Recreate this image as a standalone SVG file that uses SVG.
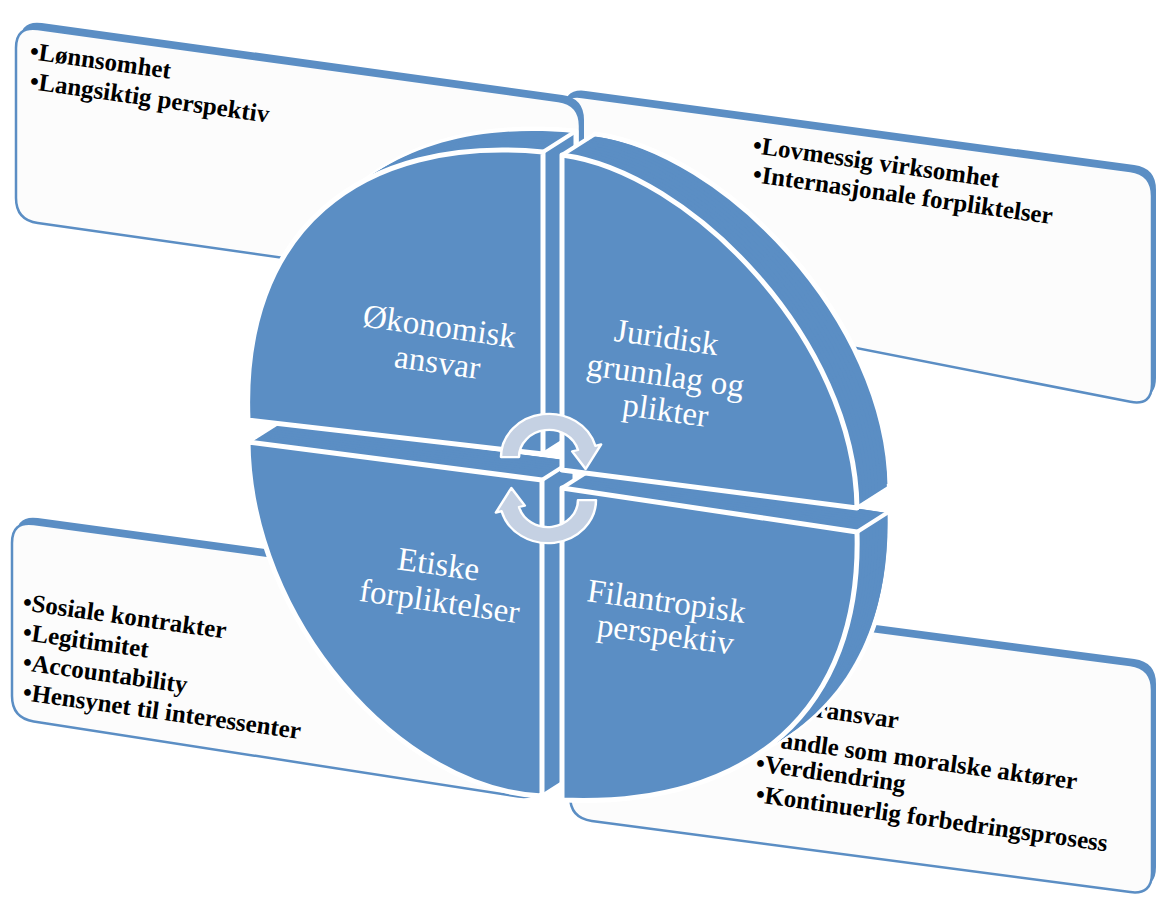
<svg xmlns="http://www.w3.org/2000/svg" xmlns:xlink="http://www.w3.org/1999/xlink" width="1158" height="898" viewBox="0 0 1158 898">
<defs>
<style>
.boxback{fill:#5B8EC4}
.boxface{fill:#FCFCFC;stroke:#5B8EC4;stroke-width:2.5}
.item{font-family:"Liberation Serif",serif;font-weight:bold;font-size:25px;fill:#000}
.lbl{font-family:"Liberation Serif",serif;font-size:33px;fill:#FFFFFF;text-anchor:middle}
.ext{fill:#5B8EC4}
.back{fill:#5B8EC4;stroke:#FFFFFF;stroke-width:5;stroke-linejoin:round}
.front{fill:#5B8EC4;stroke:#FFFFFF;stroke-width:5;stroke-linejoin:round}
.edge{stroke:#FFFFFF;stroke-width:4;stroke-linecap:round;fill:none}
.arrow{fill:#C5D1E3;stroke:#FFFFFF;stroke-width:2.5;stroke-linejoin:round}
</style>
<path id="pq1" d="M248,420 C240,230 360,135 543,152 L543,454 Z"/>
<path id="pq2" d="M562,155 C690,172 855,340 857,508 L562,470 Z"/>
<path id="pq3" d="M248,442 L542,480 L542,796 C400,790 250,620 248,442 Z"/>
<path id="pq4" d="M562,488 L857,532 C862,710 750,808 562,800 Z"/>
<path id="bTL" d="M16,48 Q16,26 37.8,29 L558.2,101 Q580,104 580,126 L580,278 Q580,300 558.2,296.9 L37.8,223.1 Q16,220 16,198 Z"/>
<path id="bTR" d="M560,116 Q560,94 581.8,96.9 L1130.2,171.1 Q1152,174 1152,196 L1152,384 Q1152,406 1130.4,401.8 L581.6,294.2 Q560,290 560,268 Z"/>
<path id="bBL" d="M12,543 Q12,521 33.8,524 L518.2,590 Q540,593 540,615 L540,778 Q540,800 518.3,796.6 L33.7,721.4 Q12,718 12,696 Z"/>
<path id="bBR" d="M570,613 Q570,591 591.8,593.9 L1130.2,665.1 Q1152,668 1152,690 L1152,873 Q1152,895 1130.2,892.1 L591.8,820.9 Q570,818 570,796 Z"/>
<path id="arr" d="M-48,0 A48,48 0 0 1 46.36,-12.42 L52.16,-13.98 L36.65,13.34 L23.18,-6.21 L28.98,-7.76 A30,30 0 0 0 -30,0 Z"/>
</defs>

<g id="box-juridisk">
<use href="#bTR" class="boxback" transform="translate(4,-6)"/>
<use href="#bTR" class="boxface"/>
<text class="item" transform="translate(752,153) rotate(8)">•Lovmessig virksomhet</text>
<text class="item" transform="translate(752,182) rotate(8)">•Internasjonale forpliktelser</text>
</g>

<g id="box-okonomisk">
<use href="#bTL" class="boxback" transform="translate(4,-6)"/>
<use href="#bTL" class="boxface"/>
<text class="item" transform="translate(29,59) rotate(8)">•Lønnsomhet</text>
<text class="item" transform="translate(29,89) rotate(8)">•Langsiktig perspektiv</text>
</g>

<g id="box-etiske">
<use href="#bBL" class="boxback" transform="translate(4,-6)"/>
<use href="#bBL" class="boxface"/>
<text class="item" transform="translate(22,610) rotate(8)">•Sosiale kontrakter</text>
<text class="item" transform="translate(22,640) rotate(8)">•Legitimitet</text>
<text class="item" transform="translate(22,670) rotate(8)">•Accountability</text>
<text class="item" transform="translate(22,700) rotate(8)">•Hensynet til interessenter</text>
</g>

<g id="box-filantropisk">
<use href="#bBR" class="boxback" transform="translate(4,-6)"/>
<use href="#bBR" class="boxface"/>
<text class="item" transform="translate(815,717) rotate(8)">ransvar</text>
<text class="item" transform="translate(780,748) rotate(8)">andle som moralske aktører</text>
<text class="item" transform="translate(755,771) rotate(8)">•Verdiendring</text>
<text class="item" transform="translate(755,802) rotate(8)">•Kontinuerlig forbedringsprosess</text>
</g>

<g id="q3-etiske">
<use href="#pq3" class="back" transform="translate(33,-21)"/>
<use href="#pq3" class="ext" transform="translate(30,-19.1)"/>
<use href="#pq3" class="ext" transform="translate(27,-17.2)"/>
<use href="#pq3" class="ext" transform="translate(24,-15.3)"/>
<use href="#pq3" class="ext" transform="translate(21,-13.4)"/>
<use href="#pq3" class="ext" transform="translate(18,-11.5)"/>
<use href="#pq3" class="ext" transform="translate(15,-9.5)"/>
<use href="#pq3" class="ext" transform="translate(12,-7.6)"/>
<use href="#pq3" class="ext" transform="translate(9,-5.7)"/>
<use href="#pq3" class="ext" transform="translate(6,-3.8)"/>
<use href="#pq3" class="ext" transform="translate(3,-1.9)"/>
<path class="edge" d="M248,442 L281,421 M542,480 L575,459 M542,796 L575,775"/>
<use href="#pq3" class="front"/>
<text class="lbl" transform="translate(437,575) rotate(8)">Etiske</text>
<text class="lbl" transform="translate(438,612) rotate(8)">forpliktelser</text>
</g>

<g id="q4-filantropisk">
<use href="#pq4" class="back" transform="translate(33,-21)"/>
<use href="#pq4" class="ext" transform="translate(30,-19.1)"/>
<use href="#pq4" class="ext" transform="translate(27,-17.2)"/>
<use href="#pq4" class="ext" transform="translate(24,-15.3)"/>
<use href="#pq4" class="ext" transform="translate(21,-13.4)"/>
<use href="#pq4" class="ext" transform="translate(18,-11.5)"/>
<use href="#pq4" class="ext" transform="translate(15,-9.5)"/>
<use href="#pq4" class="ext" transform="translate(12,-7.6)"/>
<use href="#pq4" class="ext" transform="translate(9,-5.7)"/>
<use href="#pq4" class="ext" transform="translate(6,-3.8)"/>
<use href="#pq4" class="ext" transform="translate(3,-1.9)"/>
<path class="edge" d="M562,488 L595,467 M857,532 L890,511 M562,800 L595,779"/>
<use href="#pq4" class="front"/>
<text class="lbl" transform="translate(665,612) rotate(8)">Filantropisk</text>
<text class="lbl" transform="translate(664,645) rotate(8)">perspektiv</text>
</g>

<g id="q1-okonomisk">
<use href="#pq1" class="back" transform="translate(33,-21)"/>
<use href="#pq1" class="ext" transform="translate(30,-19.1)"/>
<use href="#pq1" class="ext" transform="translate(27,-17.2)"/>
<use href="#pq1" class="ext" transform="translate(24,-15.3)"/>
<use href="#pq1" class="ext" transform="translate(21,-13.4)"/>
<use href="#pq1" class="ext" transform="translate(18,-11.5)"/>
<use href="#pq1" class="ext" transform="translate(15,-9.5)"/>
<use href="#pq1" class="ext" transform="translate(12,-7.6)"/>
<use href="#pq1" class="ext" transform="translate(9,-5.7)"/>
<use href="#pq1" class="ext" transform="translate(6,-3.8)"/>
<use href="#pq1" class="ext" transform="translate(3,-1.9)"/>
<path class="edge" d="M543,152 L576,131 M543,454 L576,433 M248,420 L281,399"/>
<use href="#pq1" class="front"/>
<text class="lbl" transform="translate(438,337) rotate(8)">Økonomisk</text>
<text class="lbl" transform="translate(436,373) rotate(8)">ansvar</text>
</g>

<g id="q2-juridisk">
<use href="#pq2" class="back" transform="translate(33,-21)"/>
<use href="#pq2" class="ext" transform="translate(30,-19.1)"/>
<use href="#pq2" class="ext" transform="translate(27,-17.2)"/>
<use href="#pq2" class="ext" transform="translate(24,-15.3)"/>
<use href="#pq2" class="ext" transform="translate(21,-13.4)"/>
<use href="#pq2" class="ext" transform="translate(18,-11.5)"/>
<use href="#pq2" class="ext" transform="translate(15,-9.5)"/>
<use href="#pq2" class="ext" transform="translate(12,-7.6)"/>
<use href="#pq2" class="ext" transform="translate(9,-5.7)"/>
<use href="#pq2" class="ext" transform="translate(6,-3.8)"/>
<use href="#pq2" class="ext" transform="translate(3,-1.9)"/>
<path class="edge" d="M562,155 L595,134 M857,508 L890,487 M562,470 L595,449"/>
<use href="#pq2" class="front"/>
<text class="lbl" transform="translate(665,348) rotate(8)">Juridisk</text>
<text class="lbl" transform="translate(664,386) rotate(8)">grunnlag og</text>
<text class="lbl" transform="translate(664,421) rotate(8)">plikter</text>
</g>

<g id="connectors">
<use href="#arr" class="arrow" transform="translate(549,457) scale(1,0.9)"/>
<use href="#arr" class="arrow" transform="translate(548,500) rotate(180) scale(1,0.9)"/>
</g>
</svg>
